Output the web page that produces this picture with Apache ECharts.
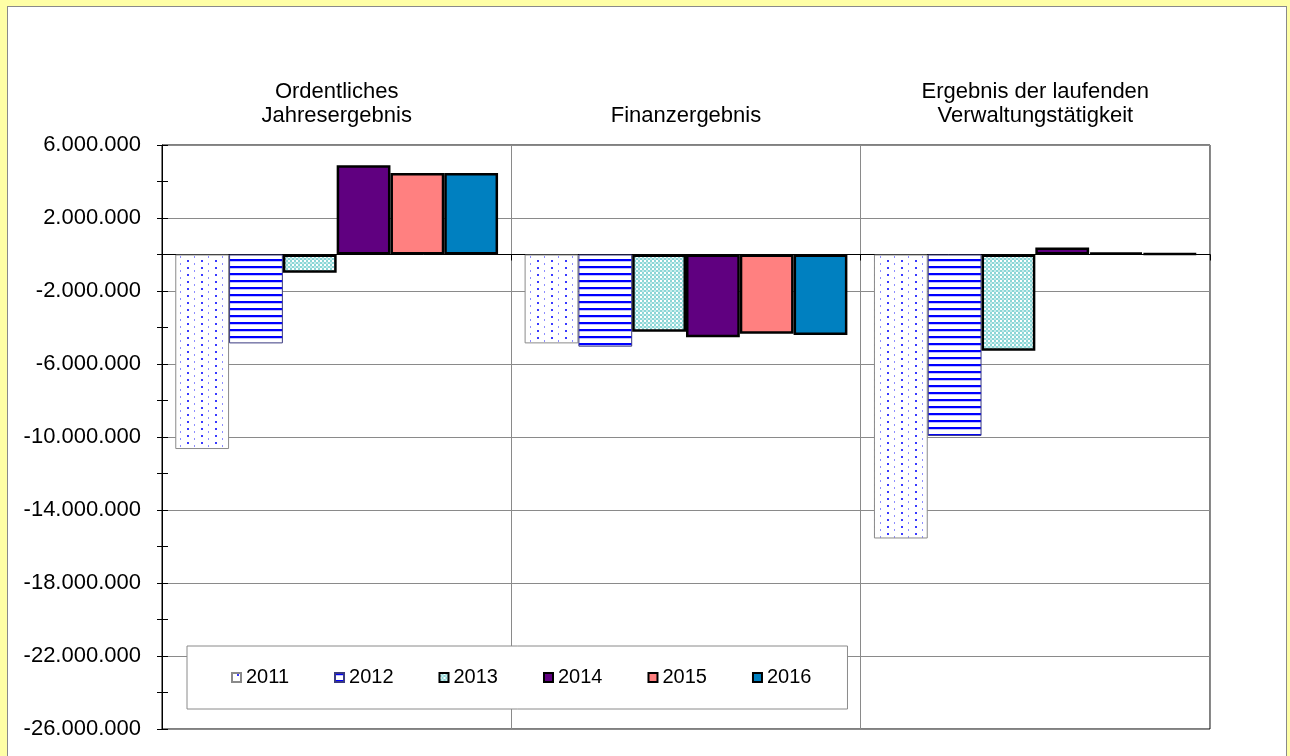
<!DOCTYPE html>
<html>
<head>
<meta charset="utf-8">
<script src="https://cdn.jsdelivr.net/npm/echarts@6/dist/echarts.min.js"></script>
<style>
  html, body { margin: 0; padding: 0; width: 1290px; height: 756px; overflow: hidden; background: #FFFFA6; }
  #panel { position: absolute; left: 7px; top: 6px; width: 1278px; height: 760px; background: #fff; border: 1px solid #8a8a8a; }
  #chart { position: absolute; left: 0; top: 0; width: 1290px; height: 756px; }
</style>
</head>
<body>
<div id="panel"></div>
<div id="chart"></div>
<script>
// ---- data ----
const categories = ['Ordentliches\nJahresergebnis', 'Finanzergebnis', 'Ergebnis der laufenden\nVerwaltungstätigkeit'];
const years = ['2011', '2012', '2013', '2014', '2015', '2016'];
const v2011 = [-10660000, -4870000, -15560000];
const v2012 = [-4870000, -5050000, -9940000];
const v2013 = [-1000000, -4230000, -5280000];
const v2014 = [4890000, -4540000, 380000];
const v2015 = [4460000, -4340000, 100000];
const v2016 = [4460000, -4410000, 50000];
const yMin = -26000000, yMax = 6000000, yStep = 4000000, yMinorStep = 2000000;

// ---- patterns ----
function tile(w, h, draw) {
  const c = document.createElement('canvas');
  c.width = w; c.height = h;
  const g = c.getContext('2d');
  draw(g);
  return { image: c, repeat: 'repeat' };
}
const dots = tile(14, 7, g => {
  g.fillStyle = '#fff'; g.fillRect(0, 0, 14, 7);
  g.fillStyle = '#3a3aff'; g.fillRect(5, 1, 2, 2);
  g.fillStyle = '#8c8cff'; g.fillRect(12, 4, 1, 2);
});
const stripes = tile(4, 7, g => {
  g.fillStyle = '#fff'; g.fillRect(0, 0, 4, 7);
  g.fillStyle = '#0000ff'; g.fillRect(0, 0, 4, 2);
  g.fillStyle = '#c4c4ff'; g.fillRect(0, 2, 4, 1);
});
const checker = tile(4, 4, g => {
  g.fillStyle = '#8cd6d6'; g.fillRect(0, 0, 4, 4);
  g.fillStyle = '#ffffff'; g.fillRect(0, 0, 2, 2);
  g.fillStyle = '#c6ecec'; g.fillRect(2, 2, 2, 2);
});

const styles = [
  { color: dots, borderColor: '#8a8a8a', borderWidth: 1 },
  { color: stripes, borderColor: '#3a3a80', borderWidth: 1 },
  { color: checker, borderColor: '#000', borderWidth: 2.5 },
  { color: '#600080', borderColor: '#000', borderWidth: 2.5 },
  { color: '#FF8080', borderColor: '#000', borderWidth: 2.5 },
  { color: '#0080C0', borderColor: '#000', borderWidth: 2.5 }
];
const values = [v2011, v2012, v2013, v2014, v2015, v2016];

const font = "'Liberation Sans', Arial, sans-serif";
const series = years.map((y, i) => ({
  name: y,
  type: 'bar',
  xAxisIndex: 0,
  yAxisIndex: 0,
  data: values[i],
  barGap: '0%',
  barCategoryGap: '7.6%',
  itemStyle: styles[i],
  emphasis: { disabled: true },
  animation: false
}));

const fmt = v => (v < 0 ? '-' : '') + Math.abs(Math.round(v)).toString().replace(/\B(?=(\d{3})+(?!\d))/g, '.');

const chart = echarts.init(document.getElementById('chart'), null, { renderer: 'canvas' });
chart.setOption({
  backgroundColor: 'transparent',
  animation: false,
  textStyle: { fontFamily: font },
  grid: { left: 162, right: 80, top: 145, bottom: 27, show: true, borderColor: '#000', borderWidth: 1, backgroundColor: '#fff' },
  legend: {
    data: years,
    left: 187, top: 646,
    orient: 'horizontal',
    icon: 'rect',
    itemWidth: 9, itemHeight: 9,
    itemGap: 45,
    padding: [20, 36, 20, 44],
    backgroundColor: '#fff',
    borderColor: '#8a8a8a', borderWidth: 1,
    textStyle: { fontSize: 20, color: '#000', fontFamily: font, lineHeight: 23 },
    selectedMode: false
  },
  xAxis: [{
    type: 'category',
    data: categories,
    position: 'top',
    axisLine: { onZero: false, show: false },
    axisTick: { show: false },
    splitLine: { show: true, lineStyle: { color: '#8a8a8a', width: 1 } },
    axisLabel: { fontSize: 22, lineHeight: 24, color: '#000', margin: 17, fontFamily: font, interval: 0 }
  }, {
    type: 'category',
    data: categories,
    position: 'bottom',
    axisLine: { onZero: true, lineStyle: { color: '#000', width: 1 } },
    axisTick: { show: true, length: 6, lineStyle: { color: '#000' } },
    axisLabel: { show: false },
    splitLine: { show: false }
  }],
  yAxis: [{
    type: 'value',
    min: yMin, max: yMax, interval: yStep,
    axisLine: { show: true, onZero: false, lineStyle: { color: '#000', width: 1 } },
    axisTick: { show: true, length: 5, lineStyle: { color: '#000' } },
    minorTick: { show: true, splitNumber: 2, length: 5, lineStyle: { color: '#000' } },
    splitLine: { show: true, lineStyle: { color: '#8a8a8a', width: 1 } },
    axisLabel: { fontSize: 22, color: '#000', margin: 21, fontFamily: font, formatter: fmt }
  }, {
    type: 'value',
    position: 'left',
    min: yMin, max: yMax, interval: yMinorStep,
    axisLine: { show: false, onZero: false },
    axisTick: { show: true, inside: true, length: 6, lineStyle: { color: '#000' } },
    axisLabel: { show: false },
    splitLine: { show: false }
  }],
  series: series
});
</script>
</body>
</html>
